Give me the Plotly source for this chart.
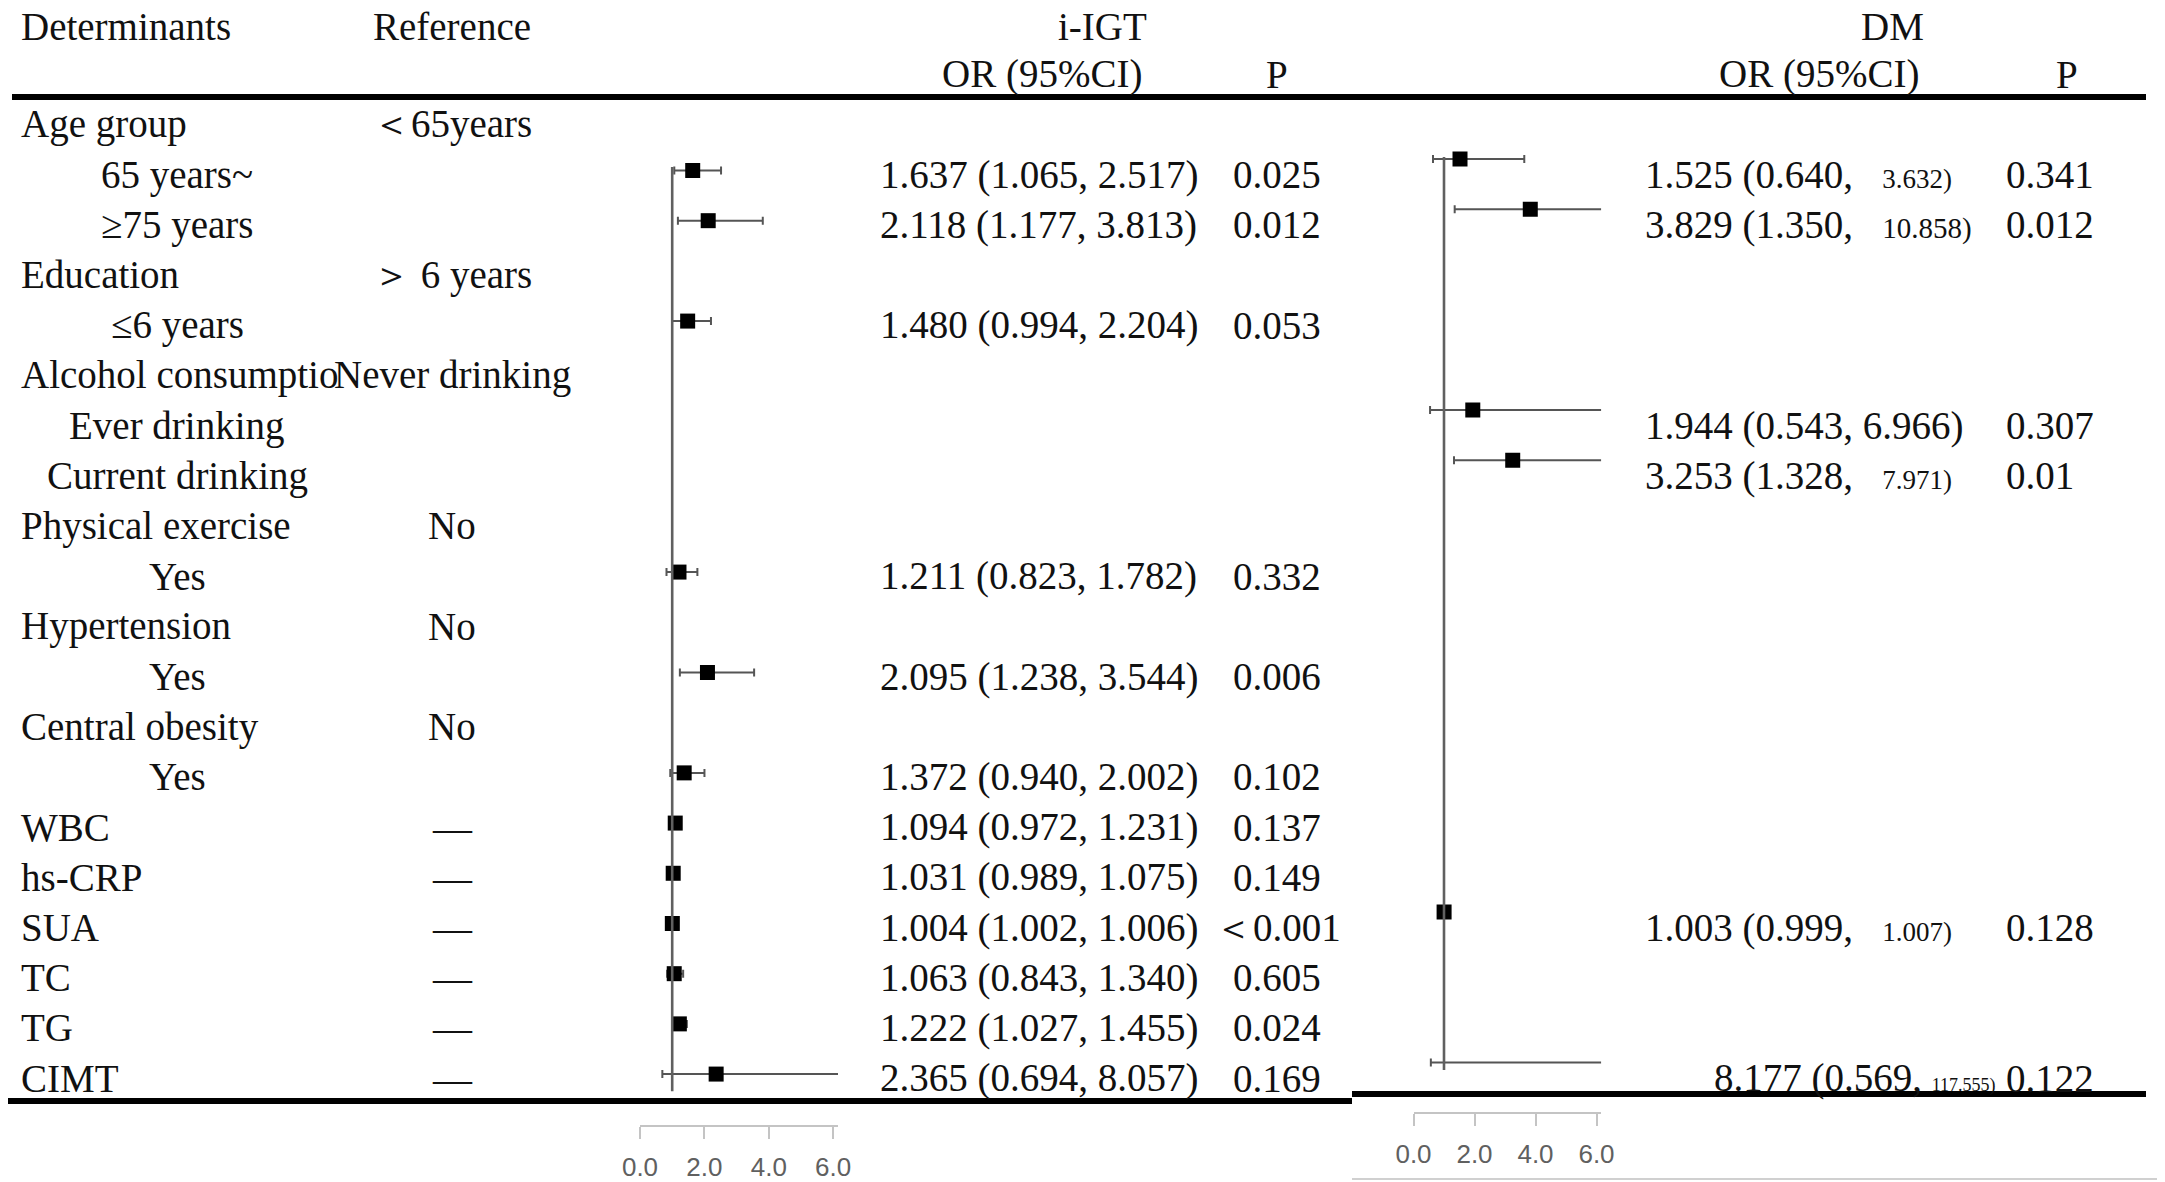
import plotly.graph_objects as go

W, H = 2165, 1182
OFF = 8  # page body margin, compensated so the picture lands where intended
ROW0, ROW_H = 124.3, 50.2  # screen pixel centre of first data row and row pitch

# ---- table data ----
determinants = ["Age group", "65 years~", "≥75 years", "Education", "≤6 years",
                "Alcohol consumptio", "Ever drinking", "Current drinking",
                "Physical exercise", "Yes", "Hypertension", "Yes",
                "Central obesity", "Yes", "WBC", "hs-CRP", "SUA", "TC", "TG", "CIMT"]
reference = ["＜65years", "", "", "＞ 6 years", "", "Never drinking", "", "",
             "No", "", "No", "", "No", "", "—", "—", "—", "—", "—", "—"]

# i-IGT
igt_rows = [1, 2, 4, 9, 11, 13, 14, 15, 16, 17, 18, 19]
igt_or = [1.637, 2.118, 1.480, 1.211, 2.095, 1.372, 1.094, 1.031, 1.004, 1.063, 1.222, 2.365]
igt_lo = [1.065, 1.177, 0.994, 0.823, 1.238, 0.940, 0.972, 0.989, 1.002, 0.843, 1.027, 0.694]
igt_hi = [2.517, 3.813, 2.204, 1.782, 3.544, 2.002, 1.231, 1.075, 1.006, 1.340, 1.455, 8.057]
igt_p = ["0.025", "0.012", "0.053", "0.332", "0.006", "0.102", "0.137", "0.149",
         "＜0.001", "0.605", "0.024", "0.169"]

# DM
dm_rows = [1, 2, 6, 7, 16, 19]
dm_or = [1.525, 3.829, 1.944, 3.253, 1.003, 8.177]
dm_lo = [0.640, 1.350, 0.543, 1.328, 0.999, 0.569]
dm_hi = [3.632, 10.858, 6.966, 7.971, 1.007, 117.555]
dm_p = ["0.341", "0.012", "0.307", "0.01", "0.128", "0.122"]

tick_vals = [0, 2, 4, 6]
tick_text = ["0.0", "2.0", "4.0", "6.0"]
REF_OR = 1

SERIF = "Liberation Serif, Times New Roman, serif"
FS = 39
dm_hi_font = [27, 29, FS, 27, 27, 18]  # upper limits in the DM column are printed smaller


def px(x):
    return (x - OFF) / W


def py(y):
    return 1 - (y - OFF) / H


fig = go.Figure()

# forest plot marks
fig.add_trace(go.Scatter(
    x=igt_or, y=igt_rows, mode="markers", xaxis="x", yaxis="y3",
    marker=dict(symbol="square", size=15, color="black"),
    error_x=dict(type="data", symmetric=False,
                 array=[h - o for h, o in zip(igt_hi, igt_or)],
                 arrayminus=[o - l for o, l in zip(igt_or, igt_lo)],
                 color="#555555", thickness=2, width=4),
    showlegend=False, hoverinfo="skip"))
fig.add_trace(go.Scatter(
    x=dm_or, y=dm_rows, mode="markers", xaxis="x2", yaxis="y2",
    marker=dict(symbol="square", size=15, color="black"),
    error_x=dict(type="data", symmetric=False,
                 array=[h - o for h, o in zip(dm_hi, dm_or)],
                 arrayminus=[o - l for o, l in zip(dm_or, dm_lo)],
                 color="#555555", thickness=2, width=4),
    showlegend=False, hoverinfo="skip"))

ann = []


def txt(x, row, s, anchor="left", size=FS):
    ann.append(dict(x=x, y=row, xref="paper", yref="y", text=s, showarrow=False,
                    xanchor=anchor, yanchor="middle",
                    font=dict(family=SERIF, size=size, color="#111111")))


# headers
txt(px(19), -1.95, "Determinants")
txt(px(452), -1.95, "Reference", "center")
txt(px(1102), -1.95, "i-IGT", "center")
txt(px(1892), -1.95, "DM", "center")
txt(px(1042), -1, "OR (95%CI)", "center")
txt(px(1277), -1, "P", "center")
txt(px(1819), -1, "OR (95%CI)", "center")
txt(px(2067), -1, "P", "center")

# row labels
for i, (d, r) in enumerate(zip(determinants, reference)):
    if r:
        txt(px(19), i, d)
        txt(px(452), i, r, "center")
    else:
        txt(px(177), i, d, "center")

for row, o, l, h, p in zip(igt_rows, igt_or, igt_lo, igt_hi, igt_p):
    txt(px(878), row, f"{o:.3f} ({l:.3f}, {h:.3f})")
    txt(px(1277), row, p, "center")

for k, (row, o, l, h, p) in enumerate(zip(dm_rows, dm_or, dm_lo, dm_hi, dm_p)):
    last = row == dm_rows[-1]
    hi_s = f"{h:.3f})"
    if dm_hi_font[k] != FS:
        gap = "" if last else "&nbsp;&nbsp;"
        hi_s = f"{gap}<span style='font-size:{dm_hi_font[k]}px'>{hi_s}</span>"
    txt(px(1712 if last else 1643), row, f"{o:.3f} ({l:.3f}, {hi_s}")
    txt(px(2004), row, p)

fig.update_layout(annotations=ann)

# rules and reference lines
shapes = [
    dict(type="line", xref="paper", yref="paper", x0=px(12), x1=px(2146),
         y0=py(97), y1=py(97), line=dict(color="black", width=6)),
    dict(type="line", xref="paper", yref="paper", x0=0, x1=px(1352),
         y0=py(1101), y1=py(1101), line=dict(color="black", width=6)),
    dict(type="line", xref="paper", yref="paper", x0=px(1352), x1=px(2146),
         y0=py(1094), y1=py(1094), line=dict(color="black", width=6)),
    dict(type="line", xref="paper", yref="paper", x0=px(1352), x1=1,
         y0=py(1179), y1=py(1179), line=dict(color="#d0d0d0", width=2)),
    dict(type="line", xref="x", yref="y3", x0=REF_OR, x1=REF_OR, y0=0.93, y1=19.34,
         line=dict(color="#606060", width=2.6)),
    dict(type="line", xref="x2", yref="y2", x0=REF_OR, x1=REF_OR, y0=0.96, y1=19.15,
         line=dict(color="#606060", width=2.6)),
]
fig.update_layout(shapes=shapes)

row_top = -(ROW0 - OFF) / ROW_H
row_bot = (H - (ROW0 - OFF)) / ROW_H
igt_shift, dm_shift = 0.08, 0.31  # forest rows sit a little above their text rows

X_MAX = 6.15
axis_common = dict(range=[0, X_MAX], tickvals=tick_vals, ticktext=tick_text,
                   showgrid=False, zeroline=False, showline=True,
                   linecolor="#c4c4c4", linewidth=1.5, ticks="outside",
                   tickcolor="#c4c4c4", tickwidth=1.5, ticklen=12,
                   anchor="free", side="bottom", ticklabelstandoff=6,
                   tickfont=dict(family="Liberation Sans, Arial, sans-serif",
                                 size=26, color="#606060"))

fig.update_layout(
    width=W, height=H, autosize=False,
    margin=dict(l=0, r=0, t=0, b=0, autoexpand=False),
    paper_bgcolor="white", plot_bgcolor="rgba(0,0,0,0)",
    xaxis=dict(domain=[px(640), px(640 + X_MAX * 32.2)], position=py(1126), **axis_common),
    xaxis2=dict(domain=[px(1413.5), px(1413.5 + X_MAX * 30.5)], position=py(1113),
                **axis_common),
    yaxis=dict(domain=[0, 1], range=[row_bot, row_top], visible=False, anchor="x"),
    yaxis2=dict(domain=[0, 1], range=[row_bot + dm_shift, row_top + dm_shift],
                visible=False, anchor="x2"),
    yaxis3=dict(range=[row_bot + igt_shift, row_top + igt_shift],
                visible=False, anchor="x", overlaying="y"),
)

fig.write_html("out.html")
